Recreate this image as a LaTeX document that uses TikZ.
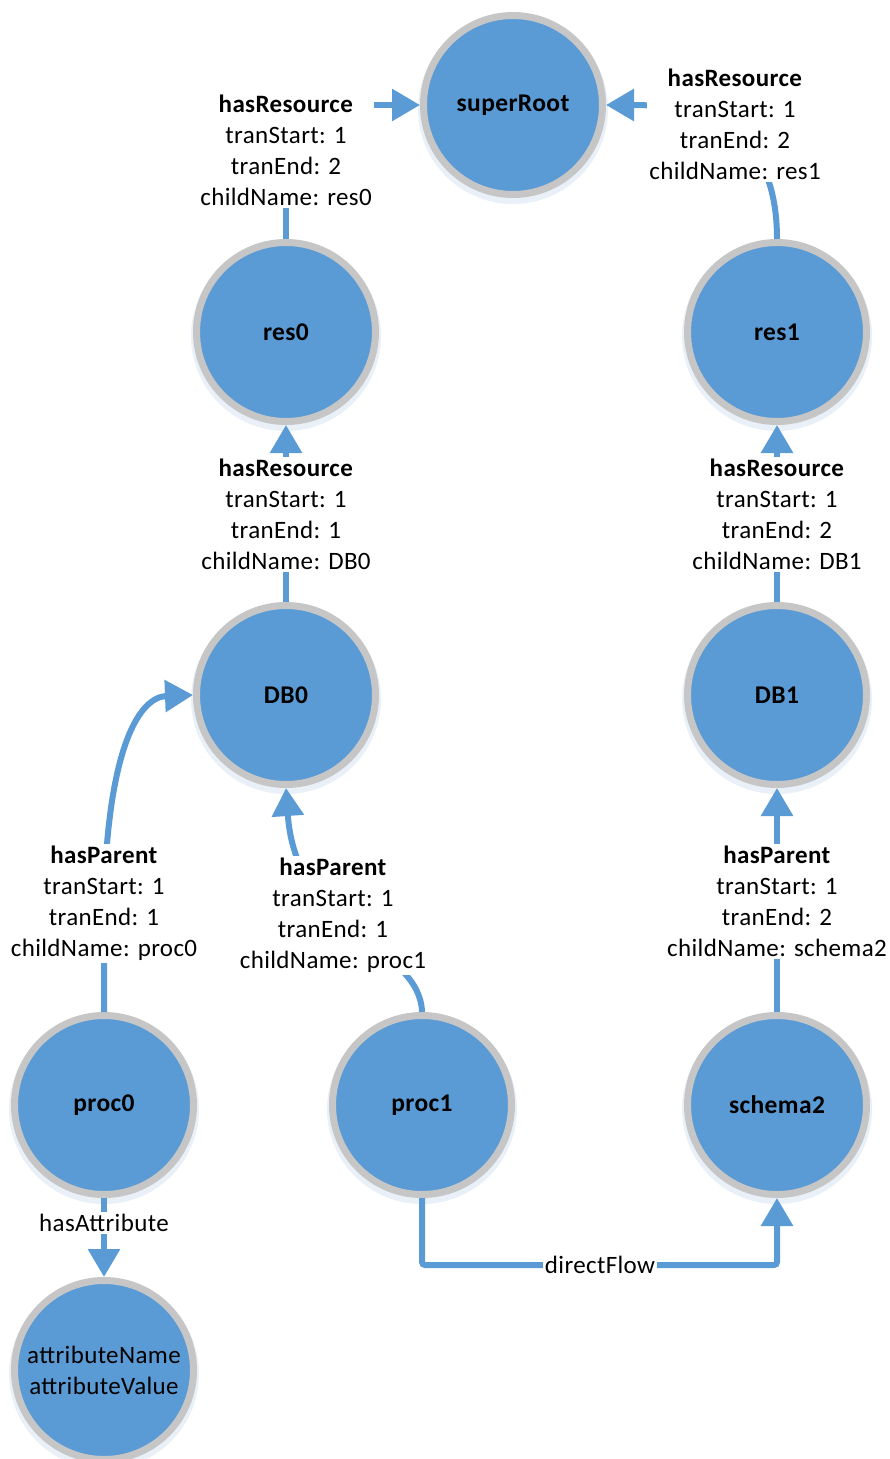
\documentclass[tikz,border=0pt]{standalone}
\usepackage{fontspec}
\setmainfont{Carlito}[LetterSpace=1.5]
\usetikzlibrary{arrows.meta}
\definecolor{nodeblue}{HTML}{5B9BD5}
\definecolor{ringgray}{HTML}{C6C6C6}
\definecolor{haze}{HTML}{E9F0F8}
\begin{document}
\begin{tikzpicture}[x=1pt,y=-1pt,
  entity/.style={circle, fill=nodeblue, draw=ringgray, line width=7pt,
    minimum size=179pt, inner sep=0pt, font=\fontsize{25.5}{31}\selectfont\bfseries},
  attrnode/.style={entity, font=\fontsize{25}{31}\selectfont, align=center},
  rel/.style={draw=nodeblue, line width=6pt,
    -{Triangle[width=31pt,length=28pt]}},
  tag/.style={fill=white, align=center, inner sep=2pt,
    font=\fontsize{25}{31}\selectfont},
  glow/.style={fill=haze, draw=none}
]
\useasboundingbox (0,0) rectangle (890,1459);

% soft halo below each entity
\foreach \cx/\cy in {513/105, 286/332, 777/332, 286/695, 777/695,
                     104/1105, 422/1105, 777/1105, 104/1370}
  \fill[glow] (\cx,\cy+4) circle (95pt);

% entities
\node[entity] (superRoot) at (513,105) {superRoot};
\node[entity] (res0)      at (286,332) {res0};
\node[entity] (res1)      at (777,332) {res1};
\node[entity] (DB0)       at (286,695) {DB0};
\node[entity] (DB1)       at (777,695) {DB1};
\node[entity] (proc0)     at (104,1105) {proc0};
\node[entity] (proc1)     at (422,1105) {proc1};
\node[entity] (schema2)   at (777,1105) {schema2};
\node[attrnode] (attr)    at (104,1370) {attributeName\\attributeValue};

% relations
\draw[rel] (res0.north) |- (superRoot.west);
\draw[rel] (res1.north) .. controls (777,135) and (715,105) .. (superRoot.east);
\draw[rel] (DB0) -- (res0);
\draw[rel] (DB1) -- (res1);
\draw[rel] (proc0.north) -- (104,900) .. controls (108,745) and (140,697) .. (DB0.west);
\draw[rel] (proc1.north) .. controls (420,945) and (296,935) .. (DB0.south);
\draw[rel] (schema2) -- (DB1);
\draw[rel] (proc0) -- (attr);
\draw[rel, rounded corners=3pt] (proc1.south) -- (422,1265) -| (schema2.south);

% relation labels
\node[tag] (t1) at (286,150.5) {\textbf{hasResource}\\tranStart: 1\\tranEnd: 2\\childName: res0};
\node[tag] (t2) at (735,124.5) {\textbf{hasResource}\\tranStart: 1\\tranEnd: 2\\childName: res1};
\node[tag] (t3) at (286,514.5) {\textbf{hasResource}\\tranStart: 1\\tranEnd: 1\\childName: DB0};
\node[tag] (t4) at (777,514.5) {\textbf{hasResource}\\tranStart: 1\\tranEnd: 2\\childName: DB1};
\node[tag] (t5) at (104,903.5) {\textbf{hasParent}\\tranStart: 1\\tranEnd: 1\\childName: proc0};
\node[tag] (t6) at (333,915.5) {\textbf{hasParent}\\tranStart: 1\\tranEnd: 1\\childName: proc1};
\node[tag] (t7) at (777,901.5) {\textbf{hasParent}\\tranStart: 1\\tranEnd: 2\\childName: schema2};
\node[tag] (t8) at (104,1223) {hasAttribute};
\node[tag] (t9) at (600,1265) {directFlow};
\end{tikzpicture}
\end{document}
